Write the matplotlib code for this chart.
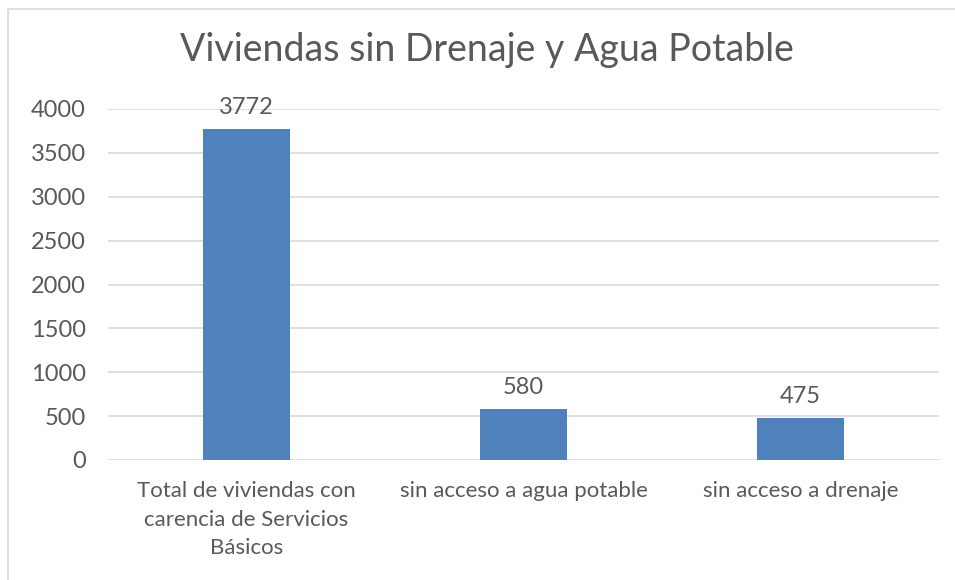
import matplotlib
matplotlib.use('Agg')
import matplotlib.pyplot as plt
from matplotlib.patches import Rectangle
import numpy as np

categories = ['Total de viviendas con\ncarencia de Servicios\nBásicos',
              'sin acceso a agua potable',
              'sin acceso a drenaje']
values = [3772, 580, 475]
yticks = [0, 500, 1000, 1500, 2000, 2500, 3000, 3500, 4000]

plt.rcParams['font.family'] = ['Lato', 'DejaVu Sans']
gray = '#595959'

fig = plt.figure(figsize=(9.55, 5.8), dpi=100)
ax = fig.add_axes([108/955, 1-460/580, (939-108)/955, (460-109)/580])

x = np.arange(len(values))
ax.bar(x, values, width=0.314, color='#4F81BD', zorder=3)
for xi, v in zip(x, values):
    ax.annotate(str(v), (xi, v), xytext=(0, 8), textcoords='offset points',
                ha='center', va='bottom', fontsize=17, color=gray)

ax.set_xlim(-0.5, 2.5)
ax.set_ylim(0, 4000)
ax.set_yticks(yticks)
ax.set_yticklabels([str(t) for t in yticks], fontsize=17, color=gray)
ax.set_xticks(x)
ax.set_xticklabels(categories, fontsize=16, color=gray, linespacing=1.55)
ax.tick_params(length=0)
ax.tick_params(axis='x', pad=15)
ax.tick_params(axis='y', pad=16)
ax.grid(axis='y', color='#d9d9d9', linewidth=1.2, zorder=0)
for s in ax.spines.values():
    s.set_visible(False)

fig.text(487/955, 1-50/580, 'Viviendas sin Drenaje y Agua Potable', ha='center', va='center',
         fontsize=27, color=gray)

fig.patches.append(Rectangle((8/955, -0.1), 1.2, 1-9/580+0.1, transform=fig.transFigure,
                             fill=False, edgecolor='#d9d9d9', linewidth=1.2))

plt.savefig('out.png', dpi=100)
